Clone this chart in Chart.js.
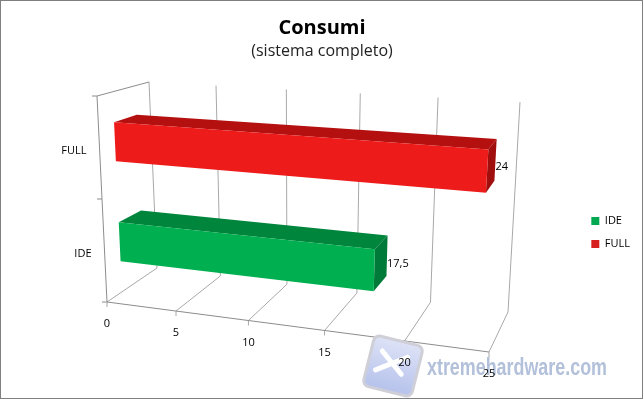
<!DOCTYPE html>
<html><head><meta charset="utf-8">
<style>html,body{margin:0;padding:0;background:#fff}canvas{display:block}</style>
<script src="https://cdn.jsdelivr.net/npm/chart.js@4/dist/chart.umd.min.js"></script>
</head><body><canvas id="c" width="644" height="400"></canvas>
<script>
const categories = ['IDE', 'FULL'];
const values = [17.5, 24];
const valueLabels = ['17,5', '24'];
const axisMax = 25;
const axisStep = 5;
const faceColors = ['#00B050', '#EE1B1B'];
const topColors = ['#00853C', '#B51010'];
const sideColors = ['#007A38', '#A00E0E'];
const legendColors = ['#00A850', '#D5201F'];
const titleText = 'Consumi';
const subtitleText = '(sistema completo)';
const watermarkText = 'xtremehardware.com';
const gridColor = '#A8A8A8';
const textFont = '"Open Sans"';

// Camera: screen position of the eight corners of the 3D plot box
// (f = front, b = back, l = value 0, r = axis max, 0 = floor, 1 = ceiling)
const box = {
  fl0:[107,302], fr0:[489,352], fl1:[97,96],  fr1:[503,123],
  bl0:[157,268], br0:[508,312], bl1:[149,82], br1:[520,102]
};
const persp = 1.134, depthFront = 0.3, depthBack = 0.74;

const lerp = (a,b,t)=>[a[0]+(b[0]-a[0])*t, a[1]+(b[1]-a[1])*t];
function project(u,h,d){
  const s = u/(u+persp*(1-u));
  const f0 = lerp(box.fl0,box.fr0,s), f1 = lerp(box.fl1,box.fr1,s);
  const b0 = lerp(box.bl0,box.br0,s), b1 = lerp(box.bl1,box.br1,s);
  return lerp(lerp(f0,f1,h), lerp(b0,b1,h), d);
}
function poly(ctx,pts,fill){
  ctx.beginPath();
  pts.forEach((p,i)=> i?ctx.lineTo(p[0],p[1]):ctx.moveTo(p[0],p[1]));
  ctx.closePath();
  ctx.fillStyle=fill; ctx.fill();
}
function seg(ctx,a,b){ctx.beginPath();ctx.moveTo(a[0],a[1]);ctx.lineTo(b[0],b[1]);ctx.stroke();}
const U = (x,v)=>(x.getPixelForValue(v)-x.left)/x.width;
const H = (y,p)=>(y.bottom-p)/y.height;

const plot3d = {
  id:'plot3d',
  beforeDatasetsDraw(chart){
    const ctx=chart.ctx, x=chart.scales.x, y=chart.scales.y;
    ctx.save();
    // frame of the picture
    ctx.strokeStyle='#7F7F7F'; ctx.lineWidth=1;
    ctx.strokeRect(0.5,0.5,642,398);
    // walls and floor
    ctx.strokeStyle=gridColor; ctx.lineWidth=1;
    x.ticks.forEach(t=>{
      const u=U(x,t.value);
      seg(ctx,project(u,0,0),project(u,0,1));
      seg(ctx,project(u,0,1),project(u,1,1));
      const p=project(u,0,0); seg(ctx,p,[p[0],p[1]+5]);
    });
    ctx.strokeStyle='#8C8C8C';
    seg(ctx,project(0,0,0),project(1,0,0));
    seg(ctx,project(0,0,0),project(0,1,0));
    seg(ctx,project(0,1,0),project(0,1,1));
    [0,0.5,1].forEach(h=>{const p=project(0,h,0); seg(ctx,p,[p[0]-5,p[1]]);});
    drawWatermark(ctx);
    // tick labels
    ctx.fillStyle='#000'; ctx.font='11px '+textFont; ctx.textBaseline='middle';
    ctx.textAlign='center';
    x.ticks.forEach(t=>{
      const p=project(U(x,t.value),0,0);
      ctx.fillText(String(t.value),p[0],p[1]+22);
    });
    ctx.textAlign='right';
    y.ticks.forEach((t,i)=>{
      const p=project(0,H(y,y.getPixelForTick(i)),0);
      ctx.fillText(categories[t.value],p[0]-13,p[1]+3);
    });
    ctx.restore();
  },
  beforeDatasetDraw(chart,args){
    const ctx=chart.ctx, x=chart.scales.x, y=chart.scales.y;
    ctx.save();
    args.meta.data.forEach((bar,i)=>{
      const u0=U(x,0), u1=U(x,values[i]);
      const top=H(y,bar.y-bar.height/2), bot=H(y,bar.y+bar.height/2);
      const dF=depthFront, dB=depthBack;
      poly(ctx,[project(u0,top,dF),project(u1,top,dF),project(u1,top,dB),project(u0,top,dB)],topColors[i]);
      poly(ctx,[project(u1,top,dF),project(u1,top,dB),project(u1,bot,dB),project(u1,bot,dF)],sideColors[i]);
      poly(ctx,[project(u0,top,dF),project(u1,top,dF),project(u1,bot,dF),project(u0,bot,dF)],faceColors[i]);
      const a=project(u1,top,dF),b=project(u1,top,dB),c=project(u1,bot,dB),d=project(u1,bot,dF);
      ctx.fillStyle='#000'; ctx.font='11px '+textFont; ctx.textAlign='left'; ctx.textBaseline='middle';
      ctx.fillText(valueLabels[i],(b[0]+c[0])/2,(a[1]+b[1]+c[1]+d[1])/4+1);
    });
    ctx.restore();
    return false;
  }
};
function drawWatermark(ctx){
  ctx.save();
  ctx.translate(393,366); ctx.rotate(14*Math.PI/180);
  const g=ctx.createLinearGradient(0,-26,0,26);
  g.addColorStop(0,'#DDE2F6'); g.addColorStop(1,'#B6C2EC');
  ctx.beginPath(); ctx.roundRect(-25,-26,50,52,6);
  ctx.fillStyle=g; ctx.fill();
  ctx.strokeStyle='#CFCFD8'; ctx.lineWidth=3; ctx.stroke();
  ctx.strokeStyle='#fff'; ctx.lineWidth=5; ctx.lineCap='round';
  seg(ctx,[-14,-12],[10,6]); seg(ctx,[-16,8],[12,-12]);
  ctx.restore();
  ctx.save();
  ctx.fillStyle='#B2C0DA'; ctx.font='bold 24px "Liberation Sans Narrow","Liberation Sans"';
  ctx.textAlign='left'; ctx.textBaseline='alphabetic';
  ctx.fillText(watermarkText,427,375,180);
  ctx.restore();
}
new Chart(document.getElementById('c'),{
  type:'bar',
  plugins:[plot3d],
  data:{labels:categories,datasets:[{data:values,backgroundColor:faceColors,barPercentage:0.39,categoryPercentage:1}]},
  options:{
    indexAxis:'y',responsive:false,animation:false,
    layout:{padding:{left:4,right:4,top:0,bottom:4}},
    scales:{
      x:{min:0,max:axisMax,ticks:{stepSize:axisStep,display:false},grid:{display:false},border:{display:false}},
      y:{reverse:true,ticks:{display:false},grid:{display:false},border:{display:false}}
    },
    plugins:{
      tooltip:{enabled:false},
      title:{display:true,text:titleText,color:'#000',font:{family:'"Open Sans"',size:20,weight:'bold'},padding:{top:16,bottom:0}},
      subtitle:{display:true,text:subtitleText,color:'#222',font:{family:'"Open Sans"',size:16,weight:'normal'},padding:{top:2,bottom:12}},
      legend:{position:'right',
        title:{display:true,text:' ',font:{size:11},padding:{top:28,bottom:28}},
        labels:{
        boxWidth:8,boxHeight:8,padding:12,color:'#000',font:{family:'"Open Sans"',size:11},
        generateLabels:()=>categories.map((c,i)=>({text:c,fontColor:'#000',fillStyle:legendColors[i],strokeStyle:legendColors[i],lineWidth:0,index:i}))
      }}
    }
  }
});
</script></body></html>
